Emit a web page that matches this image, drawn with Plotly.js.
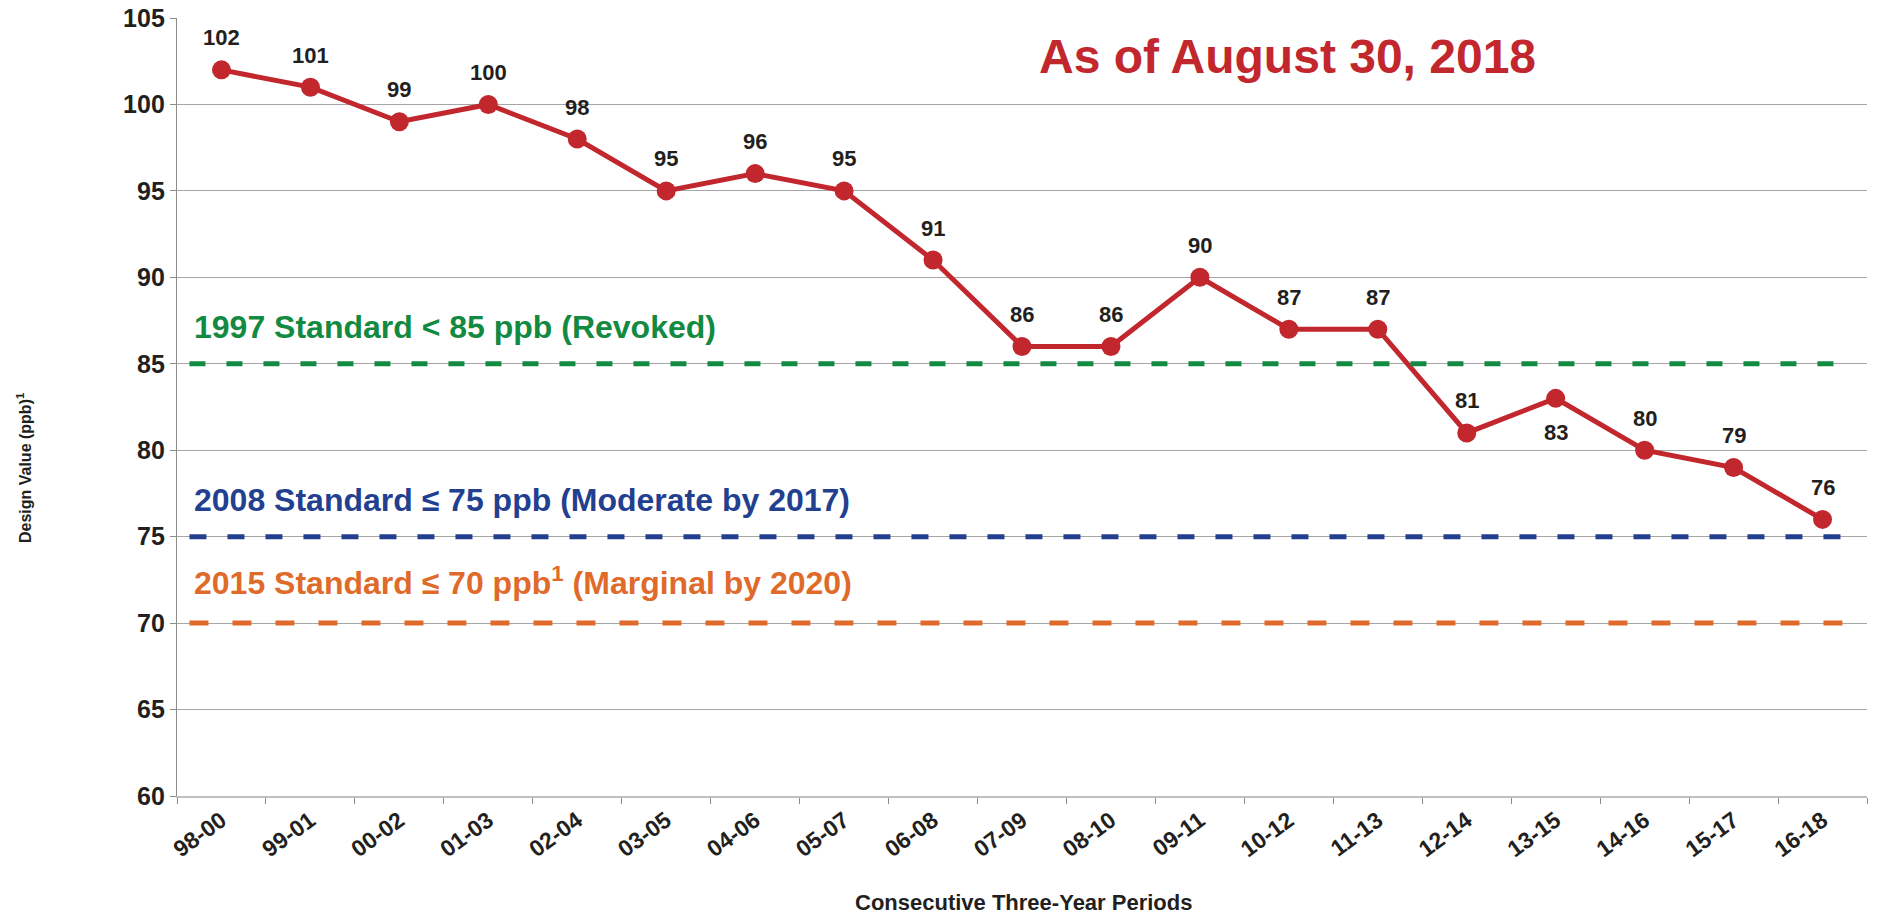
<!DOCTYPE html>
<html>
<head>
<meta charset="utf-8">
<script src="https://cdn.plot.ly/plotly-3.0.1.min.js"></script>
<style>html,body{margin:0;padding:0;background:#fff;}#chart{width:1879px;height:917px;}</style>
</head>
<body>
<div id="chart"></div>
<script>
const periods = ["98-00","99-01","00-02","01-03","02-04","03-05","04-06","05-07","06-08","07-09","08-10","09-11","10-12","11-13","12-14","13-15","14-16","15-17","16-18"];
const designValues = [102,101,99,100,98,95,96,95,91,86,86,90,87,87,81,83,80,79,76];
const labelBelow = [false,false,false,false,false,false,false,false,false,false,false,false,false,false,false,true,false,false,false];
const standardValues = [85, 75, 70];
const standardLabels = ["1997 Standard < 85 ppb (Revoked)", "2008 Standard ≤ 75 ppb (Moderate by 2017)", "2015 Standard ≤ 70 ppb<sup>1</sup> (Marginal by 2020)"];
const standardColors = ["#128A42", "#233F8F", "#E06A2A"];
const yTicks = [60,65,70,75,80,85,90,95,100,105];
const chartTitle = "As of August 30, 2018";
const xTitle = "Consecutive Three-Year Periods";
const yTitle = "Design Value (ppb)<sup>1</sup>";

const FONT = "Liberation Sans, Arial, sans-serif";
const dashes = ["16px,21px","17px,21px","19px,24px"];
const shifts = [37, 37, 42];

const trace = {
  x: periods, y: designValues, type: "scatter", mode: "lines+markers",
  line: {color: "#C1272D", width: 5},
  marker: {color: "#C1272D", size: 19},
  cliponaxis: false, hoverinfo: "x+y"
};

const shapes = standardValues.map((v, i) => ({
  type: "line", xref: "x", yref: "y", x0: -0.36, x1: 18.35, y0: v, y1: v,
  line: {color: standardColors[i], width: 5, dash: dashes[i]}, layer: "above"
}));

const annotations = [];
periods.forEach((p, i) => {
  annotations.push({
    xref: "x", yref: "y", x: p, y: designValues[i],
    yshift: labelBelow[i] ? -34 : 32, xanchor: "center", yanchor: "middle",
    text: String(designValues[i]), showarrow: false,
    font: {family: FONT, size: 22, color: "#231F20", weight: "bold"}
  });
});
standardValues.forEach((v, i) => {
  annotations.push({
    xref: "paper", yref: "y", x: 0.009, y: v, yshift: shifts[i], xanchor: "left", yanchor: "middle",
    text: standardLabels[i], showarrow: false,
    font: {family: FONT, size: 32, color: standardColors[i], weight: "bold"}
  });
});
annotations.push({
  xref: "paper", yref: "paper", x: 0.657, y: 0.951, xanchor: "center", yanchor: "middle",
  text: chartTitle, showarrow: false,
  font: {family: FONT, size: 48, color: "#C1272D", weight: "bold"}
});
annotations.push({
  xref: "paper", yref: "paper", x: 0.5006, y: -0.1375, xanchor: "center", yanchor: "middle",
  text: xTitle, showarrow: false,
  font: {family: FONT, size: 22, color: "#231F20", weight: "bold"}
});
annotations.push({
  xref: "paper", yref: "paper", x: -0.0905, y: 0.4216, xanchor: "center", yanchor: "middle",
  text: yTitle, showarrow: false, textangle: -90,
  font: {family: FONT, size: 16, color: "#231F20", weight: "bold"}
});

const layout = {
  width: 1879, height: 917,
  margin: {l: 177, r: 12, t: 18, b: 121},
  paper_bgcolor: "#ffffff", plot_bgcolor: "#ffffff",
  showlegend: false,
  xaxis: {
    type: "category", categoryorder: "array", categoryarray: periods,
    range: [-0.5, 18.5], tickson: "boundaries", ticks: "outside", ticklen: 6, tickcolor: "#8C8C8C",
    tickangle: -36, tickfont: {family: FONT, size: 23, color: "#231F20", weight: "bold"},
    showgrid: false, showline: true, linecolor: "#BFBFBF", linewidth: 2, zeroline: false, fixedrange: true
  },
  yaxis: {
    range: [60, 105], tickvals: yTicks, ticktext: yTicks.map(String),
    ticks: "outside", ticklen: 6, tickcolor: "#8C8C8C",
    tickfont: {family: FONT, size: 25, color: "#231F20", weight: "bold"},
    showgrid: true, gridcolor: "#A6A6A6", gridwidth: 1.2,
    showline: true, linecolor: "#8C8C8C", linewidth: 1.2, zeroline: false, fixedrange: true
  },
  shapes: shapes,
  annotations: annotations
};

Plotly.newPlot("chart", [trace], layout, {displayModeBar: false, staticPlot: true});
</script>
</body>
</html>
